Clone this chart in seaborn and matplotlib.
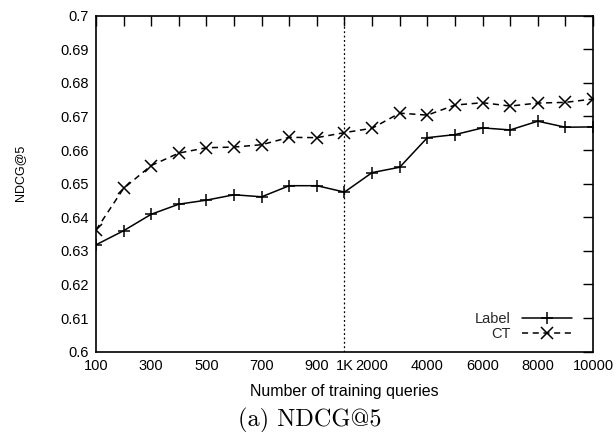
import numpy as np
import pandas as pd
import matplotlib
matplotlib.use("Agg")
import matplotlib.pyplot as plt
from matplotlib.lines import Line2D
from matplotlib.ticker import FormatStrFormatter
import seaborn as sns

# ---- data ----
queries = ["100", "200", "300", "400", "500", "600", "700", "800", "900", "1000",
           "2000", "3000", "4000", "5000", "6000", "7000", "8000", "9000", "10000"]
xtick_labels = ["100", "", "300", "", "500", "", "700", "", "900", "1K",
                "2000", "", "4000", "", "6000", "", "8000", "", "10000"]
label_ndcg = [0.6318, 0.6360, 0.6409, 0.6439, 0.6451, 0.6467, 0.6461, 0.6494, 0.6494, 0.6475,
              0.6533, 0.6549, 0.6637, 0.6646, 0.6666, 0.6660, 0.6686, 0.6668, 0.6669]
ct_ndcg = [0.6362, 0.6486, 0.6554, 0.6591, 0.6607, 0.6609, 0.6616, 0.6638, 0.6637, 0.6652,
           0.6665, 0.6710, 0.6704, 0.6734, 0.6741, 0.6731, 0.6740, 0.6742, 0.6752]
series_names = ["Label", "CT"]
yticks = [0.6, 0.61, 0.62, 0.63, 0.64, 0.65, 0.66, 0.67, 0.68, 0.69, 0.7]

sns.set_theme(style="white")
plt.rcParams["font.family"] = ["Liberation Sans", "DejaVu Sans"]

df = pd.DataFrame({
    "queries": queries * 2,
    "ndcg": label_ndcg + ct_ndcg,
    "method": [series_names[0]] * len(queries) + [series_names[1]] * len(queries),
})

fig = plt.figure(figsize=(6.16, 4.32), dpi=100)
ax = fig.add_axes([0.1558, 0.1859, 0.8069, 0.7778])

sns.lineplot(data=df, x="queries", y="ndcg", style="method",
             markers={"Label": "+", "CT": "x"},
             dashes={"Label": "", "CT": (4, 3)},
             color="black", ax=ax, legend=False,
             markersize=9, markeredgewidth=1.1, markeredgecolor="black",
             linewidth=1.1)

ax.axvline(queries.index("1000"), color="black", linestyle=(0, (1.5, 2)), linewidth=0.9)

ax.set_xlim(0, len(queries) - 1)
ax.set_ylim(0.6, 0.7)
ax.set_xticks(range(len(queries)))
ax.set_xticklabels(xtick_labels)
ax.set_yticks(yticks)
ax.yaxis.set_major_formatter(FormatStrFormatter("%g"))
ax.tick_params(direction="in", length=7, width=1, top=True, right=True,
               labelsize=10.5, colors="black", pad=5)
for s in ax.spines.values():
    s.set_color("black")
    s.set_linewidth(1.2)

ax.set_xlabel("Number of training queries", fontsize=11.5, color="black")
ax.xaxis.label.set_va("center")
ax.xaxis.set_label_coords(0.5, -0.119)
ax.set_ylabel("NDCG@5", fontsize=9, color="black")
ax.yaxis.label.set_va("center")
ax.yaxis.set_label_coords(-0.153, 0.532)

handles = [Line2D([], [], color="black", marker="+", linestyle="-", markersize=9, linewidth=1.1, markeredgewidth=1.1),
           Line2D([], [], color="black", marker="x", linestyle=(0, (4, 3)), markersize=9, linewidth=1.1, markeredgewidth=1.1)]
ax.legend(handles, series_names, loc="lower right", bbox_to_anchor=(0.969, 0.015),
          borderaxespad=0, markerfirst=False, frameon=False, fontsize=10.5,
          handlelength=3.4, labelspacing=0.05, handletextpad=0.8)

fig.text(310 / 616, 1 - 426.7 / 432, "(a) NDCG@5", ha="center", va="baseline",
         fontsize=17.5, family=["cmr10", "DejaVu Serif"], color="black")

fig.savefig("out.png", dpi=100)
